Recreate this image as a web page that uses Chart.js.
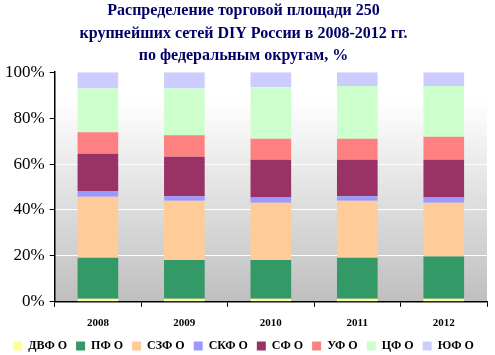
<!DOCTYPE html>
<html><head><meta charset="utf-8">
<script src="https://cdn.jsdelivr.net/npm/chart.js@4"></script>
<style>html,body{margin:0;padding:0;background:#fff}#w{width:495px;height:355px}</style>
</head><body><div id="w"><canvas id="c"></canvas></div>
<script>
const categories = ['2008','2009','2010','2011','2012'];
const seriesNames = ['ДВФ О','ПФ О','СЗФ О','СКФ О','СФ О','УФ О','ЦФ О','ЮФ О'];
const dvfo = [1.3, 1.3, 1.3, 1.3, 1.3];
const pfo  = [17.9, 16.9, 16.9, 17.9, 18.4];
const szfo = [26.5, 25.8, 24.9, 24.8, 23.4];
const skfo = [2.6, 2.0, 2.3, 2.0, 2.3];
const sfo  = [16.2, 17.2, 16.5, 15.9, 16.5];
const ufo  = [9.3, 9.3, 9.1, 9.1, 10.0];
const cfo  = [19.1, 20.4, 22.4, 23.0, 22.1];
const yufo = [7.1, 7.1, 6.6, 6.0, 6.0];
const yTicks = [0,20,40,60,80,100];
const colors = ['#FFFF99','#339966','#FFCC99','#9999FF','#993366','#FF8080','#CCFFCC','#CCCCFF'];
const allSeries = [dvfo,pfo,szfo,skfo,sfo,ufo,cfo,yufo];

const bgPlugin = {
  id:'bg',
  beforeDraw(chart){
    const {ctx, chartArea:a} = chart;
    const g = ctx.createLinearGradient(0,a.top,0,a.bottom);
    g.addColorStop(0,'#ffffff');
    g.addColorStop(0.12,'#ffffff');
    g.addColorStop(1,'#bfbfbf');
    ctx.save();
    ctx.fillStyle = g;
    ctx.fillRect(a.left,a.top,a.right-a.left,a.bottom-a.top);
    ctx.restore();
  }
};
const legendFit = {
  id:'legendFit',
  beforeUpdate(chart){
    const lg = chart.legend;
    if (lg && !lg._patched){
      const f = lg.fit;
      lg.fit = function(){ f.call(this); this.height -= 7; };
      lg._patched = true;
    }
  }
};

new Chart(document.getElementById('c'), {
  type:'bar',
  data:{
    labels:categories,
    datasets: allSeries.map((d,i)=>({label:seriesNames[i], data:d, backgroundColor:colors[i], borderWidth:0,
      categoryPercentage:1, barPercentage:0.47}))
  },
  options:{
    responsive:true, maintainAspectRatio:false, animation:false,
    layout:{padding:{left:0,right:8,top:0,bottom:0}},
    plugins:{
      title:{display:true, text:['Распределение торговой площади 250','крупнейших сетей DIY России в 2008-2012 гг.','по федеральным округам, %'],
        color:'#000066', font:{family:'Liberation Serif', size:16, weight:'bold', lineHeight:1.4}, padding:{top:0,bottom:5}},
      legend:{position:'bottom', labels:{boxWidth:9, boxHeight:9, padding:9, color:'#000', font:{family:'Liberation Serif', size:12, weight:'bold'}}},
      tooltip:{enabled:false}
    },
    scales:{
      x:{stacked:true,
        afterFit(s){ s.height -= 9; },
        grid:{drawOnChartArea:false, drawTicks:true, tickColor:'#000', tickLength:5},
        border:{color:'#000', width:1.5},
        ticks:{color:'#000', font:{family:'Liberation Serif', size:11, weight:'bold'}, padding:10}
      },
      y:{stacked:true, min:0, max:100,
        afterBuildTicks(s){ s.ticks = yTicks.map(v=>({value:v})); },
        grid:{color:'#ffffff', tickColor:'#000', tickLength:5, lineWidth:1},
        border:{color:'#000', width:1.5},
        ticks:{color:'#000', font:{family:'Liberation Serif', size:17}, padding:5, callback:v=>v+'%'}
      }
    }
  },
  plugins:[bgPlugin, legendFit]
});
</script></body></html>
